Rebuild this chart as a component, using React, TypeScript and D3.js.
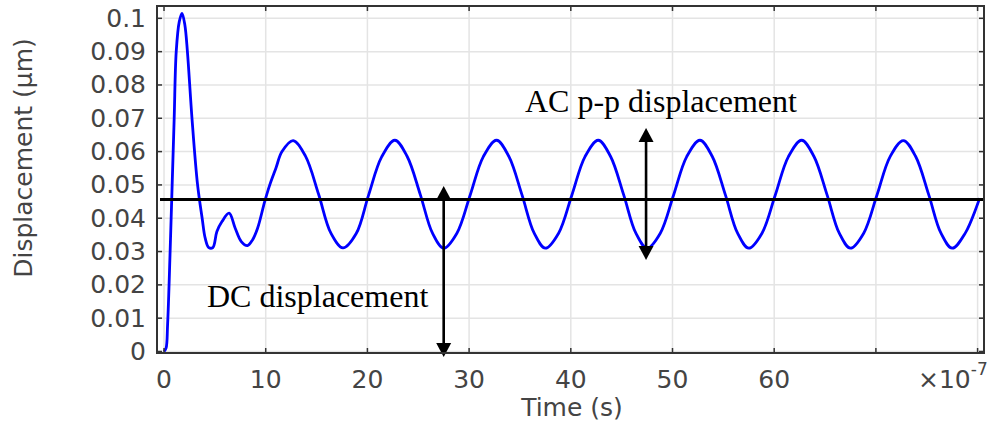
import React from "react";
import * as d3 from "d3";

const W = 993;
const H = 425;

// ---- data (time in units of 1e-7 s, displacement in µm) ----
const xTickValues = [0, 10, 20, 30, 40, 50, 60];
const xGridValues = [0, 10, 20, 30, 40, 50, 60, 70, 80];
const yTickValues = [0, 0.01, 0.02, 0.03, 0.04, 0.05, 0.06, 0.07, 0.08, 0.09, 0.1];
const yTickLabels = ["0", "0.01", "0.02", "0.03", "0.04", "0.05", "0.06", "0.07", "0.08", "0.09", "0.1"];

const timeValues = [
  0, 0.2, 0.35, 0.6, 0.8, 1.0, 1.2, 1.5, 1.77, 2.05, 2.3, 2.75, 3.3, 3.75, 4.05, 4.4, 4.8, 5.2, 5.7, 6.4, 7.0, 7.6, 8.2, 8.7, 9.2, 9.9, 10.4, 11.0, 11.6,
  12.7, 13.9, 15.2, 16.4, 17.6, 18.9, 20.1, 21.4,
  22.7, 23.9, 25.2, 26.4, 27.5, 28.8, 30.1, 31.4,
  32.7, 33.9, 35.2, 36.4, 37.5, 38.8, 40.1, 41.4,
  42.7, 43.9, 45.2, 46.4, 47.5, 48.8, 50.1, 51.4,
  52.7, 53.9, 55.2, 56.4, 57.5, 58.8, 60.1, 61.4,
  62.7, 63.9, 65.2, 66.4, 67.5, 68.8, 70.1, 71.4,
  72.7, 73.9, 75.2, 76.4, 77.5, 78.8, 80.2,
];
const displacementValues = [
  0, 0.001, 0.008, 0.03, 0.05, 0.07, 0.09, 0.099, 0.1015, 0.098, 0.09, 0.07, 0.05, 0.04, 0.034, 0.0312, 0.0312, 0.036, 0.039, 0.0415, 0.037, 0.033, 0.0318, 0.0335, 0.037, 0.045, 0.05, 0.055, 0.06,
  0.0633, 0.0587, 0.0472, 0.0356, 0.0311, 0.0354, 0.0468, 0.0584,
  0.0634, 0.0586, 0.0471, 0.0355, 0.031, 0.0355, 0.0469, 0.0585,
  0.0634, 0.0586, 0.047, 0.0355, 0.031, 0.0355, 0.0469, 0.0585,
  0.0634, 0.0586, 0.047, 0.0355, 0.031, 0.0355, 0.0469, 0.0585,
  0.0634, 0.0586, 0.047, 0.0355, 0.031, 0.0355, 0.0469, 0.0585,
  0.0634, 0.0586, 0.047, 0.0355, 0.031, 0.0355, 0.0469, 0.0585,
  0.0633, 0.0586, 0.047, 0.0355, 0.031, 0.0356, 0.046,
];

// annotations
const dcLevel = 0.0456;
const dcArrow = { t: 27.5, top: 0.0497, bottom: -0.00165 };
const acArrow = { t: 47.4, top: 0.0671, bottom: 0.0275 };
const dcLabel = "DC displacement";
const acLabel = "AC p-p displacement";

const frame = { left: 157, right: 984, top: 6, bottom: 353 };

export default function App() {
  const x = d3.scaleLinear().domain([-0.69, 80.63]).range([frame.left, frame.right]);
  const y = d3.scaleLinear().domain([-0.00045, 0.1037]).range([frame.bottom, frame.top]);

  const pts: [number, number][] = timeValues.map((t, i) => [t, displacementValues[i]]);
  const line = d3
    .line<[number, number]>()
    .x((d) => x(d[0]))
    .y((d) => y(d[1]))
    .curve(d3.curveCatmullRom.alpha(0.5));

  const tickColor = "#333";
  const textColor = "#444";
  const sans = "'DejaVu Sans', Verdana, sans-serif";
  const serif = "'Liberation Serif', 'Times New Roman', serif";
  const tl = 5;

  const head = (cx: number, tipY: number, dir: number) => {
    // dir = -1 => points up, 1 => points down
    const hw = 7.5;
    const hl = 14;
    return `M${cx},${tipY} L${cx - hw},${tipY - dir * hl} L${cx + hw},${tipY - dir * hl} Z`;
  };

  const arrow = (a: { t: number; top: number; bottom: number }) => {
    const cx = x(a.t);
    const yt = y(a.top);
    const yb = y(a.bottom);
    return (
      <g>
        <line x1={cx} x2={cx} y1={yt + 10} y2={yb - 10} stroke="#000" strokeWidth={2.6} />
        <path d={head(cx, yt, -1)} fill="#000" />
        <path d={head(cx, yb, 1)} fill="#000" />
      </g>
    );
  };

  return (
    <svg width={W} height={H} style={{ position: "absolute", left: 0, top: 0, background: "#fff" }}>
      <rect x={0} y={0} width={W} height={H} fill="#fff" />
      {/* grid */}
      <g stroke="#e4e4e4" strokeWidth={1.5}>
        {xGridValues.map((v) => (
          <line key={"gx" + v} x1={x(v)} x2={x(v)} y1={frame.top} y2={frame.bottom} />
        ))}
        {yTickValues.map((v) => (
          <line key={"gy" + v} x1={frame.left} x2={frame.right} y1={y(v)} y2={y(v)} />
        ))}
      </g>

      {/* data curve */}
      <path d={line(pts) || ""} fill="none" stroke="#0000ff" strokeWidth={2.8} strokeLinejoin="round" />

      {/* DC level line */}
      <line x1={frame.left + 3} x2={frame.right} y1={y(dcLevel)} y2={y(dcLevel)} stroke="#000" strokeWidth={3} />

      {/* arrows */}
      {arrow(dcArrow)}
      {arrow(acArrow)}

      {/* annotation text */}
      <text x={207} y={307} fontFamily={serif} fontSize={32} fill="#000">
        {dcLabel}
      </text>
      <text x={525} y={112} fontFamily={serif} fontSize={32} fill="#000">
        {acLabel}
      </text>

      {/* frame */}
      <rect
        x={frame.left}
        y={frame.top}
        width={frame.right - frame.left}
        height={frame.bottom - frame.top}
        fill="none"
        stroke={tickColor}
        strokeWidth={2}
      />

      {/* ticks */}
      <g stroke={tickColor} strokeWidth={1.5}>
        {xGridValues.map((v) => (
          <g key={"tx" + v}>
            <line x1={x(v)} x2={x(v)} y1={frame.bottom} y2={frame.bottom - tl} />
            <line x1={x(v)} x2={x(v)} y1={frame.top} y2={frame.top + tl} />
          </g>
        ))}
        {yTickValues.map((v) => (
          <g key={"ty" + v}>
            <line x1={frame.left} x2={frame.left + tl} y1={y(v)} y2={y(v)} />
            <line x1={frame.right} x2={frame.right - tl} y1={y(v)} y2={y(v)} />
          </g>
        ))}
      </g>

      {/* tick labels */}
      <g fontFamily={sans} fontSize={25} fill={textColor}>
        {xTickValues.map((v) => (
          <text key={"lx" + v} x={x(v)} y={388} textAnchor="middle">
            {v}
          </text>
        ))}
        {yTickValues.map((v, i) => (
          <text key={"ly" + v} x={146} y={y(v)} textAnchor="end" dominantBaseline="central">
            {yTickLabels[i]}
          </text>
        ))}
        <text x={918} y={388}>
          ×10
          <tspan dy={-13} fontSize={17}>
            -7
          </tspan>
        </text>
      </g>

      {/* axis titles */}
      <text x={572} y={416} textAnchor="middle" fontFamily={sans} fontSize={25} fill={textColor}>
        Time (s)
      </text>
      <text
        transform="translate(32,158) rotate(-90)"
        textAnchor="middle"
        fontFamily={sans}
        fontSize={25}
        fill={textColor}
      >
        Displacement (µm)
      </text>
    </svg>
  );
}
